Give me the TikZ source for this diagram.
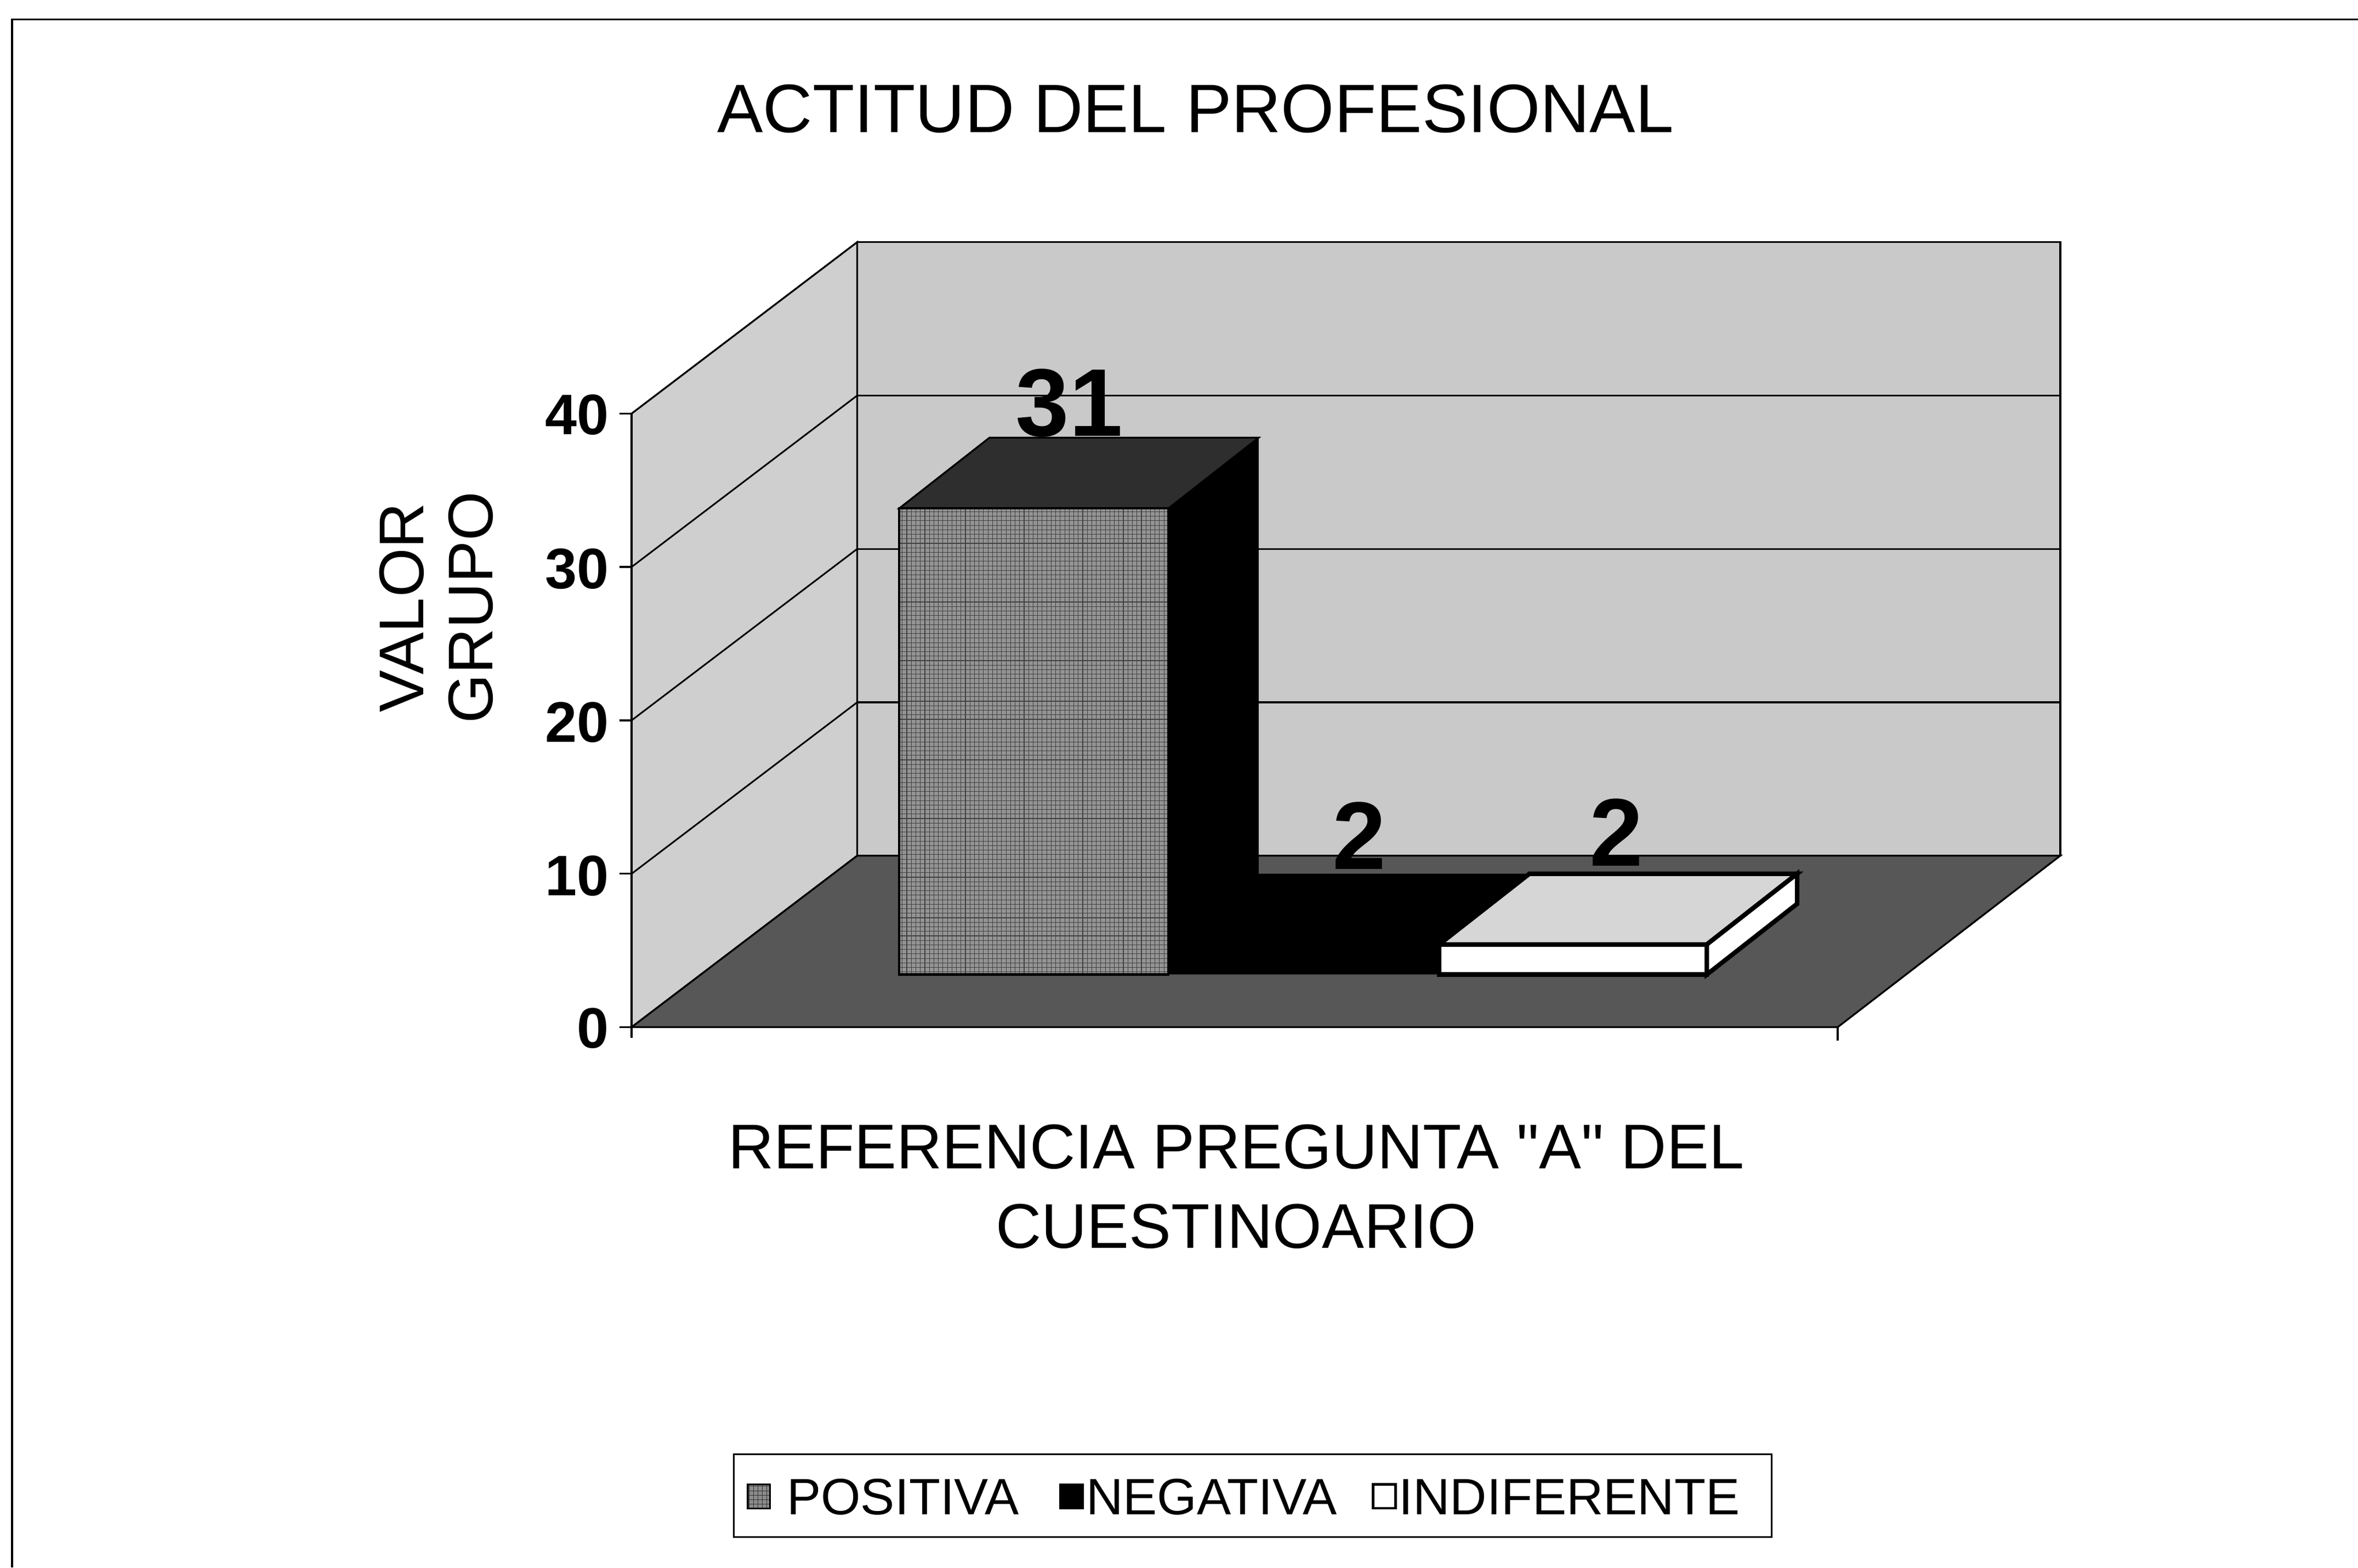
\documentclass[tikz,border=0pt]{standalone}
\usepackage{fontspec}
\setmainfont{Liberation Sans}[Ligatures=TeXOff]
\usetikzlibrary{patterns}
\begin{document}
\begin{tikzpicture}[x=1pt,y=-1pt,
  wallback/.style={fill=black!21,draw=black,line width=1.2pt},
  wallleft/.style={fill=black!19,draw=black,line width=1.2pt},
  floorface/.style={fill=black!66,draw=black,line width=1.2pt},
  grid/.style={draw=black,line width=1.1pt},
  ticklbl/.style={anchor=base east,inner sep=0pt,font=\fontsize{38}{40}\selectfont\bfseries},
  datalbl/.style={anchor=base,inner sep=0pt,font=\fontsize{64}{66}\selectfont\bfseries},
  legtxt/.style={anchor=base west,inner sep=0pt,font=\fontsize{34}{36}\selectfont}]
\useasboundingbox (0,0) rectangle (1568,1042.3);
% frame
\draw[line width=1.3pt] (1568,13) -- (8,13) -- (8,1042.3);
% title
\node[anchor=base,inner sep=0pt,font=\fontsize{45.6}{50}\selectfont] (title) at (795,88) {ACTITUD DEL PROFESIONAL};
% walls
\draw[wallback] (570,161) rectangle (1370,569);
\draw[wallleft] (420,683) -- (420,275) -- (570,161) -- (570,569) -- cycle;
\draw[floorface] (420,683) -- (1222,683) -- (1370,569) -- (570,569) -- cycle;
% grid lines
\foreach \k in {1,2,3} {
  \draw[grid] (570,569-102*\k) -- (1370,569-102*\k);
  \draw[grid] (420,683-102*\k) -- (570,569-102*\k);
}
% value axis
\draw[line width=1.5pt] (420,275) -- (420,690);
\foreach \k in {0,...,4} {
  \draw[line width=1.3pt] (412,683-102*\k) -- (420,683-102*\k);
}
\draw[line width=1.3pt] (1222,683) -- (1222,692);
\node[ticklbl] (t40) at (405,289) {40};
\node[ticklbl] (t30) at (405,391.5) {30};
\node[ticklbl] (t20) at (405,493.5) {20};
\node[ticklbl] (t10) at (405,595.5) {10};
\node[ticklbl] (t0) at (405,697) {0};
% positive bar
\fill[black] (777,338) -- (837,291) -- (837,601) -- (777,648) -- cycle;
\draw[fill=black!82,line width=1.2pt] (598,338) -- (658,291) -- (837,291) -- (777,338) -- cycle;
\fill[black!42] (598,338) rectangle (777,648);
\fill[pattern=grid,pattern color=black!75] (598,338) rectangle (777,648);
\draw[line width=1.5pt] (598,338) rectangle (777,648);
% negative bar
\fill[black] (777,628) -- (837,581) -- (1017,581) -- (1017,601) -- (957,648) -- (777,648) -- cycle;
% indifferent bar
\draw[fill=black!16,line width=3pt] (957,628) -- (1017,581) -- (1195,581) -- (1135,628) -- cycle;
\draw[fill=white,line width=3pt] (1135,628) -- (1195,581) -- (1195,601) -- (1135,648) -- cycle;
\draw[fill=white,line width=3pt] (957,628) rectangle (1135,648);
% data labels
\node[datalbl] (v1) at (711,290) {31};
\node[datalbl] (v2) at (904,578) {2};
\node[datalbl] (v3) at (1075,576) {2};
% axis titles
\node[rotate=90,align=center,inner sep=0pt,font=\fontsize{42}{46}\selectfont] (ytitle) at (290,404) {VALOR\\GRUPO};
\node[align=center,anchor=base,inner sep=0pt,font=\fontsize{42}{53}\selectfont] (xtitle) at (822,830) {REFERENCIA PREGUNTA "A" DEL\\CUESTINOARIO};
% legend
\draw[line width=1.2pt] (488,967) rectangle (1178,1022);
\fill[black!45] (497,987) rectangle (512,1003);
\fill[pattern=grid,pattern color=black!80] (497,987) rectangle (512,1003);
\draw[line width=1.2pt] (497,987) rectangle (512,1003);
\draw[fill=black,line width=1.2pt] (705,987) rectangle (720,1003);
\draw[fill=white,line width=1.6pt] (913,987) rectangle (928,1003);
\node[legtxt] (lpos) at (523,1007) {POSITIVA};
\node[legtxt] (lneg) at (722,1007) {NEGATIVA};
\node[legtxt] (lind) at (930,1007) {INDIFERENTE};
\end{tikzpicture}
\end{document}
